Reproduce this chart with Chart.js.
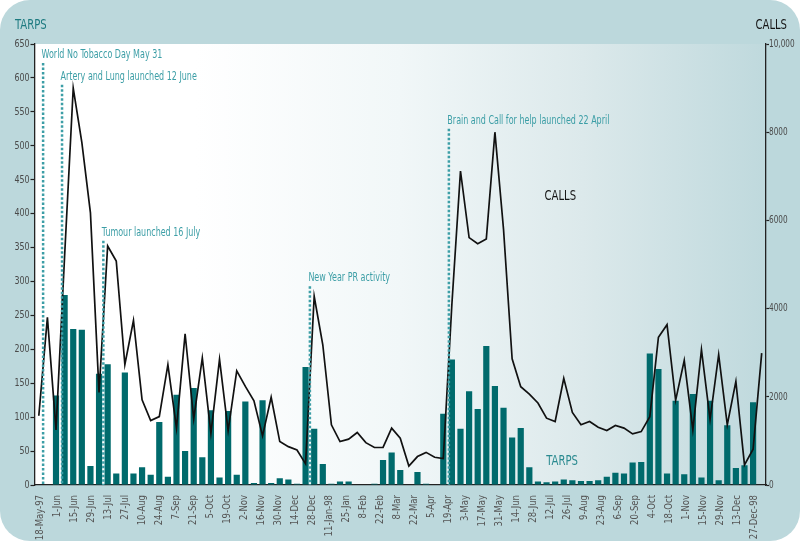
<!DOCTYPE html>
<html><head><meta charset="utf-8">
<script src="https://cdn.jsdelivr.net/npm/chart.js@4.4.1/dist/chart.umd.min.js"></script>
<style>html,body{margin:0;padding:0;background:#fff;}#wrap{width:800px;height:542px;}</style>
</head><body><div id="wrap"><canvas id="c" width="800" height="542"></canvas></div>
<script>
const FONT = "'DejaVu Sans Condensed','DejaVu Sans',sans-serif";

const weeks = ['18-May-97','25-May','1-Jun','8-Jun','15-Jun','22-Jun','29-Jun','6-Jul','13-Jul','20-Jul',
 '27-Jul','3-Aug','10-Aug','17-Aug','24-Aug','31-Aug','7-Sep','14-Sep','21-Sep','28-Sep',
 '5-Oct','12-Oct','19-Oct','26-Oct','2-Nov','9-Nov','16-Nov','23-Nov','30-Nov','7-Dec',
 '14-Dec','21-Dec','28-Dec','4-Jan-98','11-Jan-98','18-Jan','25-Jan','1-Feb','8-Feb','15-Feb',
 '22-Feb','1-Mar','8-Mar','15-Mar','22-Mar','29-Mar','5-Apr','12-Apr','19-Apr','26-Apr',
 '3-May','10-May','17-May','24-May','31-May','7-Jun','14-Jun','21-Jun','28-Jun','5-Jul',
 '12-Jul','19-Jul','26-Jul','2-Aug','9-Aug','16-Aug','23-Aug','30-Aug','6-Sep','13-Sep',
 '20-Sep','27-Sep','4-Oct','11-Oct','18-Oct','25-Oct','1-Nov','8-Nov','15-Nov','22-Nov',
 '29-Nov','6-Dec','13-Dec','20-Dec','27-Dec-98'];

const tickLabels = ['18-May-97','1-Jun','15-Jun','29-Jun','13-Jul','27-Jul','10-Aug','24-Aug','7-Sep','21-Sep',
 '5-Oct','19-Oct','2-Nov','16-Nov','30-Nov','14-Dec','28-Dec','11-Jan-98','25-Jan','8-Feb',
 '22-Feb','8-Mar','22-Mar','5-Apr','19-Apr','3-May','17-May','31-May','14-Jun','28-Jun',
 '12-Jul','26-Jul','9-Aug','23-Aug','6-Sep','20-Sep','4-Oct','18-Oct','1-Nov','15-Nov',
 '29-Nov','13-Dec','27-Dec-98'];

const tarps = [0,0,132,280,230,229,28,164,178,17,
 166,17,26,15,93,12,133,50,143,41,
 110,11,109,15,123,3,125,3,10,8,
 2,174,83,31,2,5,5,0,0,2,
 37,48,22,0,19,2,0,105,185,83,
 138,112,205,146,114,70,84,26,5,4,
 5,8,7,6,6,7,12,18,17,33,
 34,194,171,17,124,16,134,11,124,7,
 88,25,29,122,0];

const calls = [1570,3800,1250,5200,9000,7770,6170,2100,5420,5080,
 2730,3730,1930,1460,1550,2730,1290,3430,1500,2880,
 1170,2850,1235,2590,2235,1910,1115,1990,985,870,
 795,480,4280,3180,1365,985,1040,1190,960,850,
 855,1290,1060,430,645,740,630,600,4100,7120,
 5610,5470,5580,8000,5800,2860,2230,2060,1860,1515,
 1440,2420,1645,1365,1440,1310,1235,1350,1290,1160,
 1210,1550,3350,3635,1920,2825,1250,3070,1490,2955,
 1365,2350,455,810,2990];

const tarpsTicks = [0,50,100,150,200,250,300,350,400,450,500,550,600,650];
const callsTicks = [0,2000,4000,6000,8000,10000];

const events = ['World No Tobacco Day May 31','Artery and Lung launched 12 June','Tumour launched 16 July',
 'New Year PR activity','Brain and Call for help launched 22 April'];
const eventWeek = [0.5, 2.7, 7.5, 31.5, 47.65];
const eventTop = [622, 590, 360, 293, 525];

const BG = '#bcd8dc';
const TEAL_TEXT = '#3c9ea6';

// horizontal squeeze so the wide installed font matches the condensed face of the original
let squeeze = 1;
function patchCtx(ctx) {
  if (ctx.__sq) return;
  const orig = ctx.fillText;
  ctx.fillText = function (t, x, y) {
    if (squeeze === 1) return orig.call(this, t, x, y);
    this.save();
    this.translate(x, y);
    this.scale(squeeze, 1);
    orig.call(this, t, 0, 0);
    this.restore();
  };
  ctx.__sq = true;
}

function rr(ctx, x, y, w, h, r) {
  ctx.beginPath();
  ctx.moveTo(x + r, y);
  ctx.lineTo(x + w - r, y);
  ctx.arcTo(x + w, y, x + w, y + r, r);
  ctx.lineTo(x + w, y + h - r);
  ctx.arcTo(x + w, y + h, x + w - r, y + h, r);
  ctx.lineTo(x + r, y + h);
  ctx.arcTo(x, y + h, x, y + h - r, r);
  ctx.lineTo(x, y + r);
  ctx.arcTo(x, y, x + r, y, r);
  ctx.closePath();
}

const squeezePlugin = {
  id: 'squeeze',
  beforeInit(chart) { patchCtx(chart.ctx); },
  afterLayout(chart) {
    const f = { xl: 0.86, y: 0.8, y1: 0.74 };
    Object.keys(f).forEach(id => {
      const s = chart.scales[id];
      if (s && !s.__wrapped) {
        const o = s.drawLabels;
        s.drawLabels = function (a) { squeeze = f[id]; o.call(this, a); squeeze = 1; };
        s.__wrapped = true;
      }
    });
  }
};

const bgPlugin = {
  id: 'bg',
  beforeDraw(chart) {
    const ctx = chart.ctx, a = chart.chartArea;
    ctx.save();
    ctx.fillStyle = '#fff';
    ctx.fillRect(0, 0, chart.width, chart.height);
    rr(ctx, 0, 0, chart.width, chart.height - 1, 30);
    ctx.fillStyle = BG;
    ctx.fill();
    const g = ctx.createLinearGradient(a.left, 0, a.right, 0);
    g.addColorStop(0, '#ffffff');
    g.addColorStop(0.22, '#ffffff');
    g.addColorStop(0.5, '#f1f7f8');
    g.addColorStop(0.75, '#dce9eb');
    g.addColorStop(1, '#bfd9dd');
    ctx.fillStyle = g;
    ctx.fillRect(a.left, a.top, a.right - a.left, a.bottom - a.top);
    ctx.font = '14px ' + FONT;
    ctx.textBaseline = 'alphabetic';
    squeeze = 0.8;
    ctx.fillStyle = '#1d7a80';
    ctx.textAlign = 'left';
    ctx.fillText('TARPS', 15, 29);
    ctx.fillStyle = '#151515';
    ctx.textAlign = 'right';
    ctx.fillText('CALLS', 787, 29);
    squeeze = 1;
    ctx.restore();
  }
};

const annoPlugin = {
  id: 'anno',
  afterDatasetsDraw(chart) {
    const ctx = chart.ctx, a = chart.chartArea;
    const xs = chart.scales.x, ys = chart.scales.y, y1 = chart.scales.y1;
    ctx.save();
    for (let i = 0; i < events.length; i++) {
      const x = xs.getPixelForValue(eventWeek[i]);
      const yt = ys.getPixelForValue(eventTop[i]);
      ctx.strokeStyle = TEAL_TEXT;
      ctx.lineWidth = 2.5;
      ctx.setLineDash([2.5, 2]);
      ctx.beginPath();
      ctx.moveTo(x, yt);
      ctx.lineTo(x, a.bottom);
      ctx.stroke();
      ctx.setLineDash([]);
      ctx.font = '12px ' + FONT;
      ctx.fillStyle = TEAL_TEXT;
      ctx.textAlign = 'left';
      ctx.textBaseline = 'alphabetic';
      squeeze = 0.74;
      ctx.fillText(events[i], x - 1.5, yt - 5);
      squeeze = 1;
    }
    ctx.font = '14px ' + FONT;
    ctx.textAlign = 'center';
    ctx.textBaseline = 'middle';
    squeeze = 0.8;
    ctx.fillStyle = '#151515';
    ctx.fillText('CALLS', xs.getPixelForValue(60.6), y1.getPixelForValue(6545));
    ctx.fillStyle = '#2a8a90';
    ctx.fillText('TARPS', xs.getPixelForValue(60.8), ys.getPixelForValue(34.6));
    squeeze = 1;
    ctx.restore();
  }
};

const tickFont = { family: FONT, size: 11 };

new Chart(document.getElementById('c'), {
  data: {
    labels: weeks,
    datasets: [
      { type: 'line', label: 'CALLS', data: calls, yAxisID: 'y1', xAxisID: 'x',
        borderColor: '#111', borderWidth: 1.7, pointRadius: 0, tension: 0, order: 0, fill: false },
      { type: 'bar', label: 'TARPS', data: tarps, yAxisID: 'y', xAxisID: 'x',
        backgroundColor: '#006a6c', barPercentage: 0.72, categoryPercentage: 1, order: 1 }
    ]
  },
  options: {
    responsive: false, animation: false, devicePixelRatio: 1,
    layout: { padding: { top: 44, left: 0, right: 0, bottom: 0 } },
    plugins: { legend: { display: false }, tooltip: { enabled: false } },
    scales: {
      x: { type: 'category', position: 'bottom', offset: true, weight: 0,
        grid: { display: false }, ticks: { display: false },
        border: { display: true, color: '#222', width: 1.3 },
        afterFit: s => { s.height = 0; } },
      xl: { type: 'category', position: 'bottom', offset: true, weight: 1, labels: tickLabels,
        grid: { display: false }, border: { display: false },
        ticks: { autoSkip: false, minRotation: 90, maxRotation: 90, padding: 2, labelOffset: -3,
          font: tickFont, color: '#555' },
        afterFit: s => { s.height = 57; } },
      y: { type: 'linear', position: 'left', min: 0, max: 650,
        afterBuildTicks: s => { s.ticks = tarpsTicks.map(v => ({ value: v })); },
        grid: { drawOnChartArea: false, drawTicks: true, tickLength: 4, tickColor: '#222', tickWidth: 1.2 },
        border: { display: true, color: '#222', width: 1.3 },
        ticks: { font: tickFont, color: '#4a4a4a', padding: 1 },
        afterFit: s => { s.width = 34.5; } },
      y1: { type: 'linear', position: 'right', min: 0, max: 10000,
        afterBuildTicks: s => { s.ticks = callsTicks.map(v => ({ value: v })); },
        grid: { drawOnChartArea: false, drawTicks: true, tickLength: 3, tickColor: '#222', tickWidth: 1.2 },
        border: { display: true, color: '#222', width: 1.3 },
        ticks: { font: tickFont, color: '#4a4a4a', padding: 0,
          callback: v => v === 10000 ? '10,000' : String(v) },
        afterFit: s => { s.width = 34; } }
    }
  },
  plugins: [squeezePlugin, bgPlugin, annoPlugin]
});
</script></body></html>
